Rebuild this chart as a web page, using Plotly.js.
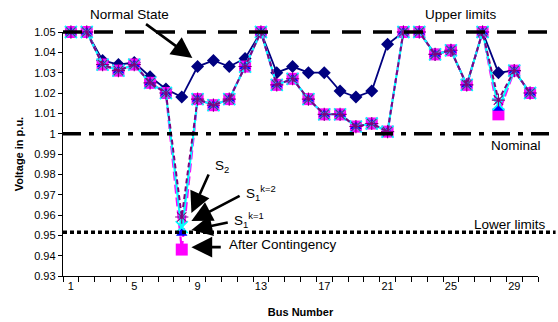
<!DOCTYPE html>
<html>
<head>
<meta charset="utf-8">
<script src="https://cdn.plot.ly/plotly-3.0.1.min.js"></script>
<style>html,body{margin:0;padding:0;background:#fff;}#chart{width:558px;height:322px;}</style>
</head>
<body>
<div id="chart"></div>
<script>
const buses = [1,2,3,4,5,6,7,8,9,10,11,12,13,14,15,16,17,18,19,20,21,22,23,24,25,26,27,28,29,30];
const normalState = [1.05,1.05,1.036,1.034,1.035,1.028,1.022,1.018,1.033,1.036,1.033,1.037,1.05,1.030,1.033,1.030,1.030,1.021,1.018,1.021,1.044,1.05,1.05,1.039,1.041,1.024,1.05,1.030,1.031,1.020];
const afterContingency = [1.05,1.05,1.034,1.031,1.034,1.025,1.020,0.943,1.017,1.014,1.017,1.033,1.05,1.024,1.027,1.017,1.0095,1.0095,1.0035,1.005,1.001,1.05,1.05,1.039,1.041,1.024,1.05,1.0095,1.031,1.020];
const s1k1 = [1.05,1.05,1.034,1.031,1.034,1.025,1.020,0.951,1.017,1.014,1.017,1.033,1.05,1.024,1.027,1.017,1.0095,1.0095,1.0035,1.005,1.001,1.05,1.05,1.039,1.041,1.024,1.05,1.0125,1.031,1.020];
const s1k2 = [1.05,1.05,1.034,1.031,1.034,1.025,1.020,0.954,1.017,1.014,1.017,1.033,1.05,1.024,1.027,1.017,1.0095,1.0095,1.0035,1.005,1.001,1.05,1.05,1.039,1.041,1.024,1.05,1.0145,1.031,1.020];
const s2 = [1.05,1.05,1.034,1.031,1.034,1.025,1.020,0.959,1.017,1.014,1.017,1.033,1.05,1.024,1.027,1.017,1.0095,1.0095,1.0035,1.005,1.001,1.05,1.05,1.039,1.041,1.024,1.05,1.0165,1.031,1.020];
const xTickVals = [1,5,9,13,17,21,25,29];
const xTickText = ['1','5','9','13','17','21','25','29'];
const yTickVals = [0.93,0.94,0.95,0.96,0.97,0.98,0.99,1.00,1.01,1.02,1.03,1.04,1.05];
const yTickText = ['0.93','0.94','0.95','0.96','0.97','0.98','0.99','1','1.01','1.02','1.03','1.04','1.05'];
const upperLimit = 1.05, nominal = 1.0, lowerLimit = 0.9515;

const FONT = 'Liberation Sans, Arial, sans-serif';

const traces = [
  {x: buses, y: normalState, name: 'Normal State', mode: 'lines+markers', cliponaxis: false,
   line: {color: '#000080', width: 1.8},
   marker: {symbol: 'diamond', size: 10, color: '#000080'}},
  {x: buses, y: afterContingency, name: 'After Contingency', mode: 'lines+markers', cliponaxis: false,
   line: {color: '#FF00FF', width: 2.2, dash: '9px,4px'},
   marker: {symbol: 'square', size: 12, color: '#FF00FF'}},
  {x: buses, y: s1k1, name: 'S1 k=1', mode: 'lines+markers', cliponaxis: false,
   line: {color: '#00FFFF', width: 2},
   marker: {symbol: 'triangle-up', size: 10, color: '#0000FF'}},
  {x: buses, y: s1k2, name: 'S1 k=2', mode: 'lines+markers', cliponaxis: false,
   line: {color: '#00FFFF', width: 1.5, dash: '4px,2px'},
   marker: {symbol: 'x-thin-open', size: 12, line: {color: '#00FFFF', width: 1.8}}},
  {x: buses, y: s2, name: 'S2', mode: 'lines+markers', cliponaxis: false,
   line: {color: '#800080', width: 2, dash: '5px,3px'},
   marker: {symbol: 'asterisk-open', size: 11, line: {color: '#800080', width: 1.1}}}
];

function hline(y, dash, yref) {
  return {type: 'line', xref: 'paper', yref: yref || 'y', x0: 0, x1: 1.037, y0: y, y1: y,
          layer: 'above', line: {color: '#000', width: 3.5, dash: dash}};
}

function arrow(x, y, ax, ay) {
  return {x: x, y: y, ax: ax, ay: ay, xref: 'x', yref: 'y', axref: 'x', ayref: 'y',
          text: '', showarrow: true, arrowhead: 2, arrowsize: 1.6, arrowwidth: 2.6, arrowcolor: '#000',
          standoff: 0, startstandoff: 0};
}
function label(x, y, text, xanchor) {
  return {x: x, y: y, xref: 'x', yref: 'y', text: text, showarrow: false,
          xanchor: xanchor || 'center', yanchor: 'middle', font: {family: FONT, size: 13.5, color: '#000'}};
}
function topLabel(x, text) {
  return {x: x, y: 1, xref: 'x', yref: 'paper', yshift: 18, text: text, showarrow: false,
          xanchor: 'center', yanchor: 'middle', font: {family: FONT, size: 13.5, color: '#000'}};
}

const layout = {
  width: 558, height: 322,
  margin: {l: 63, r: 20, t: 32, b: 46, pad: 0},
  paper_bgcolor: '#fff', plot_bgcolor: '#fff',
  showlegend: false,
  font: {family: FONT, color: '#000'},
  xaxis: {
    range: [0.5, 30.5], tickmode: 'array', tickvals: xTickVals, ticktext: xTickText,
    ticks: '', showgrid: false, zeroline: false, showline: true, linecolor: '#000', linewidth: 1.2,
    tickfont: {family: FONT, size: 11, color: '#000'},
    minor: {ticks: 'outside', tick0: 0.5, dtick: 1, ticklen: 5, tickcolor: '#000', tickwidth: 1, showgrid: false},
    title: {text: '<b>Bus Number</b>', font: {family: FONT, size: 11, color: '#000'}, standoff: 16}
  },
  yaxis: {
    range: [0.93, 1.05], tickmode: 'array', tickvals: yTickVals, ticktext: yTickText,
    ticks: 'outside', ticklen: 4, tickcolor: '#000', showgrid: false, zeroline: false,
    showline: true, linecolor: '#000', linewidth: 1.2,
    tickfont: {family: FONT, size: 11, color: '#000'},
    title: {text: '<b>Voltage in p.u.</b>', font: {family: FONT, size: 11, color: '#000'}, standoff: 8}
  },
  shapes: [
    hline(1, '19px,12px', 'paper'),
    hline(nominal, '18px,8px,5px,8px'),
    hline(lowerLimit, '4px,3px')
  ],
  annotations: [
    topLabel(4.7, 'Normal State'),
    arrow(8.67, 1.0372, 5.65, 1.0544),
    topLabel(25.65, 'Upper limits'),
    label(29.1, 0.9942, 'Nominal'),
    label(28.7, 0.9555, 'Lower limits'),
    label(10.56, 0.9841, 'S<sub>2</sub>'),
    arrow(8.61, 0.9610, 9.74, 0.9807),
    label(11.94, 0.9706, 'S<sub>1</sub><sup>k=2</sup>', 'left'),
    arrow(8.61, 0.9570, 11.75, 0.9698),
    label(11.19, 0.9573, 'S<sub>1</sub><sup>k=1</sup>', 'left'),
    arrow(8.61, 0.9526, 11.0, 0.9565),
    label(10.87, 0.9455, 'After Contingency', 'left'),
    arrow(8.61, 0.9442, 10.56, 0.9442)
  ]
};

Plotly.newPlot('chart', traces, layout, {staticPlot: true, displayModeBar: false});
</script>
</body>
</html>
